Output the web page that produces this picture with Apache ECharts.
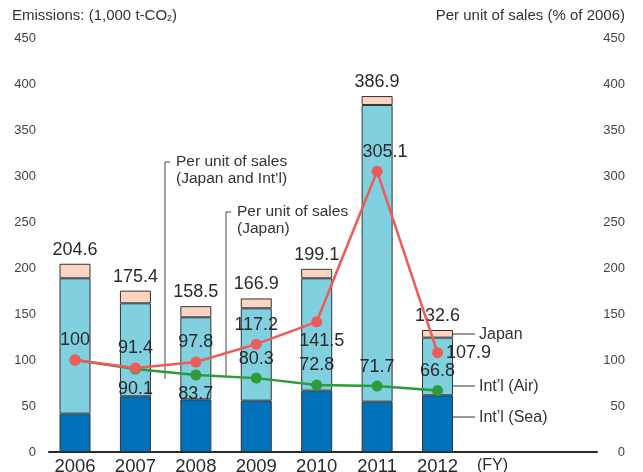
<!DOCTYPE html>
<html>
<head>
<meta charset="utf-8">
<script src="https://cdn.jsdelivr.net/npm/echarts@6/dist/echarts.min.js"></script>
<style>
  html, body { margin: 0; padding: 0; background: #fff; }
  #chart { width: 643px; height: 472px; }
</style>
</head>
<body>
<div id="chart"></div>
<script>
// Fiscal years shown on the x axis
const years = ['2006', '2007', '2008', '2009', '2010', '2011', '2012'];

// CO2 emissions (1,000 t-CO2), stacked by transport segment
const seaEmissions = [41.7, 60.5, 57.2, 55.8, 66.7, 54.7, 61.6];
const airEmissions = [147.1, 101.1, 89.2, 100.4, 122.1, 322.5, 62.7];
const totalEmissions = [204.6, 175.4, 158.5, 166.9, 199.1, 386.9, 132.6];
// Japan share is what remains of the total
const japanEmissions = totalEmissions.map((t, i) => +(t - seaEmissions[i] - airEmissions[i]).toFixed(1));

// Emissions per unit of sales (% of 2006)
const perUnitJapanIntl = [100, 91.4, 97.8, 117.2, 141.5, 305.1, 107.9];
const perUnitJapan = [100, 90.1, 83.7, 80.3, 72.8, 71.7, 66.8];

// Axis ticks
const axisMin = 0, axisMax = 450, axisStep = 50;

// Label placement for the per-unit lines
const redLabelPlace = [
  { position: 'top' }, { position: 'top' }, { position: 'top' }, { position: 'top' },
  { position: 'bottom', offset: [5, 0] }, { position: 'top', offset: [8, 0] }, { position: 'right', distance: 3 }
];
const greenLabelPlace = [
  null, { position: 'bottom' }, { position: 'bottom' }, { position: 'top' },
  { position: 'top' }, { position: 'top' }, { position: 'top' }
];

const FONT = '"Liberation Sans", Arial, Helvetica, sans-serif';
const TEXT = '#2a2a2a';
const valueLabel = { fontSize: 18, color: TEXT, fontFamily: FONT };

const chart = echarts.init(document.getElementById('chart'), null, { renderer: 'canvas' });

// Plot grid: 7 year slots, each 60.4 px wide
const slot = 60.42;
const plotLeft = 44.8;
const plotRight = 643 - (plotLeft + slot * years.length);

const hiddenY = {
  type: 'value', min: axisMin, max: axisMax, interval: axisStep,
  show: false, splitLine: { show: false }
};
const tickY = {
  type: 'value', min: axisMin, max: axisMax, interval: axisStep, gridIndex: 1,
  splitLine: { show: false }, axisLine: { show: false }, axisTick: { show: false }
};

const barBase = {
  type: 'bar',
  stack: 'emissions',
  barWidth: 31,
  xAxisIndex: 0,
  yAxisIndex: 0,
  z: 2
};

const option = {
  backgroundColor: '#ffffff',
  animation: false,
  textStyle: { fontFamily: FONT },
  title: [
    {
      text: 'Emissions: (1,000 t-CO{sub|2})',
      left: 7, top: 3,
      textStyle: {
        fontSize: 15, fontWeight: 'normal', color: '#333', fontFamily: FONT,
        rich: { sub: { fontSize: 9, color: '#333', fontFamily: FONT, verticalAlign: 'bottom', padding: [6, 0, 0, 0] } }
      }
    },
    {
      text: 'Per unit of sales (% of 2006)',
      right: 13, top: 3,
      textStyle: { fontSize: 15, fontWeight: 'normal', color: '#333', fontFamily: FONT }
    }
  ],
  grid: [
    { left: plotLeft, right: plotRight, top: 38, bottom: 20, containLabel: false, outerBoundsMode: 'none' },
    { left: 49, right: 46, top: 38, bottom: 20, containLabel: false, outerBoundsMode: 'none' }
  ],
  xAxis: [
    {
      type: 'category',
      gridIndex: 0,
      data: years,
      boundaryGap: true,
      axisLine: { show: false },
      axisTick: { show: false },
      splitLine: { show: false },
      axisLabel: { margin: 5, fontSize: 18.5, color: TEXT, fontFamily: FONT }
    },
    {
      // baseline of the chart, plus the fiscal-year unit
      type: 'value',
      gridIndex: 1,
      min: 0, max: 9.07,
      splitLine: { show: false },
      axisTick: { show: false },
      axisLine: { show: true, lineStyle: { color: '#2a2a2a', width: 2 } },
      axisLabel: {
        customValues: [7.34],
        margin: 6,
        fontSize: 16,
        color: TEXT,
        fontFamily: FONT,
        formatter: () => '(FY)'
      }
    }
  ],
  yAxis: [
    Object.assign({ gridIndex: 0 }, hiddenY),
    Object.assign({ gridIndex: 0, position: 'right' }, hiddenY),
    Object.assign({}, tickY, {
      axisLabel: { fontSize: 13, color: '#444', margin: 13, fontFamily: FONT }
    }),
    Object.assign({}, tickY, {
      position: 'right',
      axisLabel: { fontSize: 13, color: '#444', margin: 28, align: 'right', fontFamily: FONT }
    })
  ],
  series: [
    Object.assign({}, barBase, {
      name: "Int’l (Sea)",
      data: seaEmissions,
      itemStyle: { color: '#0071bb', borderColor: '#333', borderWidth: 1 }
    }),
    Object.assign({}, barBase, {
      name: "Int’l (Air)",
      data: airEmissions,
      itemStyle: { color: '#80d0e0', borderColor: '#333', borderWidth: 1 }
    }),
    Object.assign({}, barBase, {
      name: 'Japan',
      data: japanEmissions,
      itemStyle: { color: '#fdd3c2', borderColor: '#333', borderWidth: 1 },
      label: Object.assign({
        show: true, position: 'top', distance: 5,
        formatter: p => totalEmissions[p.dataIndex].toFixed(1)
      }, valueLabel)
    }),
    {
      name: 'Per unit of sales (Japan)',
      type: 'line',
      xAxisIndex: 0,
      yAxisIndex: 1,
      z: 4,
      symbol: 'circle',
      symbolSize: 11,
      lineStyle: { color: '#2e9a3c', width: 2.5 },
      itemStyle: { color: '#2e9a3c' },
      data: perUnitJapan.map((v, i) => {
        const place = greenLabelPlace[i];
        return {
          value: v,
          label: place
            ? Object.assign({ show: true, distance: 5, formatter: String(v) }, valueLabel, place)
            : { show: false }
        };
      })
    },
    {
      name: "Per unit of sales (Japan and Int’l)",
      type: 'line',
      xAxisIndex: 0,
      yAxisIndex: 1,
      z: 5,
      symbol: 'circle',
      symbolSize: 11,
      lineStyle: { color: '#ef5a5a', width: 2.5 },
      itemStyle: { color: '#ef5a5a' },
      data: perUnitJapanIntl.map((v, i) => ({
        value: v,
        label: Object.assign({ show: true, distance: 5, formatter: String(v) }, valueLabel, redLabelPlace[i])
      }))
    }
  ],
  graphic: [
    // segment callouts beside the last bar
    { type: 'line', shape: { x1: 453, y1: 334, x2: 475, y2: 334 }, style: { stroke: '#333', lineWidth: 1 } },
    { type: 'line', shape: { x1: 453, y1: 386, x2: 475, y2: 386 }, style: { stroke: '#333', lineWidth: 1 } },
    { type: 'line', shape: { x1: 453, y1: 417, x2: 475, y2: 417 }, style: { stroke: '#333', lineWidth: 1 } },
    { type: 'text', x: 479, y: 335, style: { text: 'Japan', fill: '#333', fontSize: 16, fontFamily: FONT, verticalAlign: 'middle' } },
    { type: 'text', x: 479, y: 387, style: { text: 'Int’l (Air)', fill: '#333', fontSize: 16, fontFamily: FONT, verticalAlign: 'middle' } },
    { type: 'text', x: 479, y: 418, style: { text: 'Int’l (Sea)', fill: '#333', fontSize: 16, fontFamily: FONT, verticalAlign: 'middle' } },
    // per-unit line callouts
    { type: 'polyline', shape: { points: [[170, 162], [165, 162], [165, 379]] }, style: { stroke: '#444', lineWidth: 1, fill: null } },
    { type: 'text', x: 176, y: 153, style: { text: 'Per unit of sales\n(Japan and Int’l)', fill: '#333', fontSize: 15.5, lineHeight: 17, fontFamily: FONT, verticalAlign: 'top' } },
    { type: 'polyline', shape: { points: [[231, 212], [226, 212], [226, 377]] }, style: { stroke: '#444', lineWidth: 1, fill: null } },
    { type: 'text', x: 237, y: 203, style: { text: 'Per unit of sales\n(Japan)', fill: '#333', fontSize: 15.5, lineHeight: 17, fontFamily: FONT, verticalAlign: 'top' } }
  ]
};

chart.setOption(option);
</script>
</body>
</html>
